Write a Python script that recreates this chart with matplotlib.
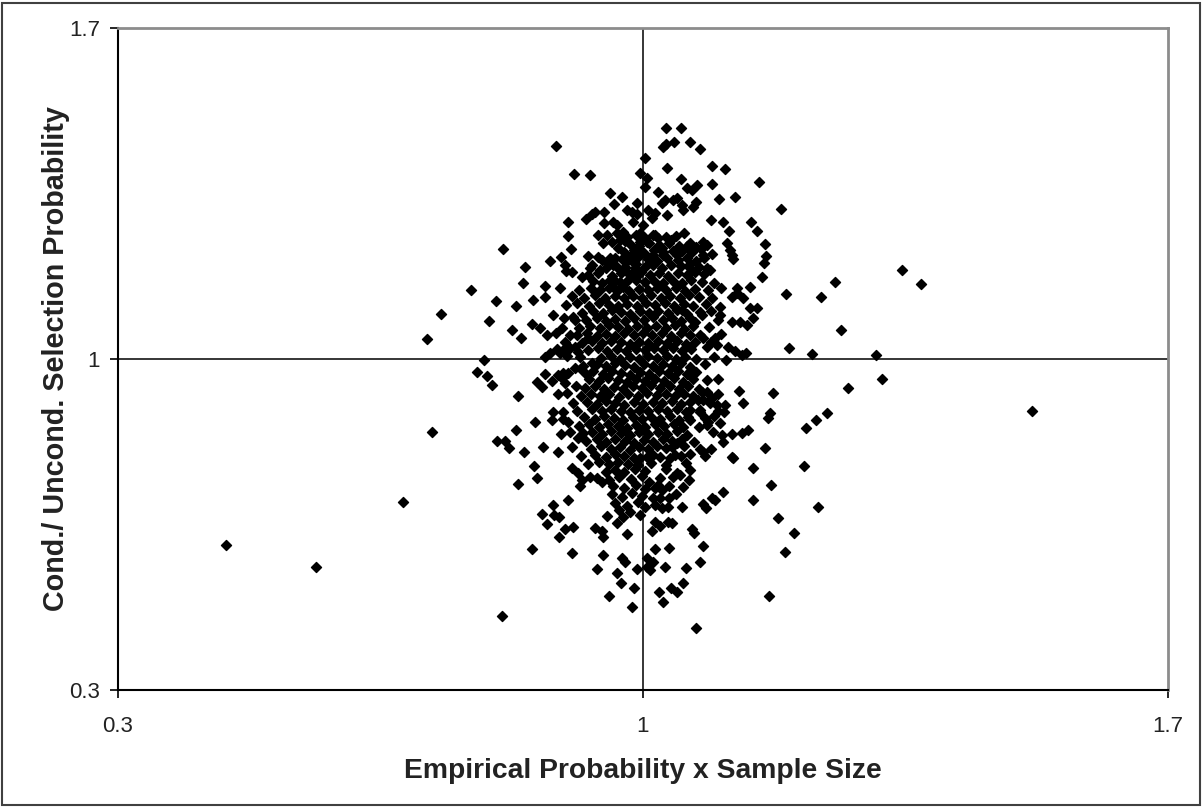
import matplotlib
matplotlib.use("Agg")
import matplotlib.pyplot as plt
from matplotlib.patches import Rectangle

# ---------------- data ----------------
x_ticks = [0.3, 1.0, 1.7]
x_tick_labels = ["0.3", "1", "1.7"]
y_ticks = [0.3, 1.0, 1.7]
y_tick_labels = ["0.3", "1", "1.7"]
x_label = "Empirical Probability x Sample Size"
y_label = "Cond./ Uncond. Selection Probability"

# outliers and far wings
outliers = [(0.444, 0.607), (0.564, 0.560), (0.680, 0.698), (0.719, 0.846),
            (0.712, 1.042), (0.731, 1.095), (0.771, 1.146), (0.812, 0.457),
            (0.884, 1.450), (1.519, 0.890), (1.345, 1.188), (1.371, 1.159),
            (0.985, 0.476), (0.955, 0.499), (1.071, 0.431), (1.168, 0.499)]

left_wing = [(0.813, 1.233), (0.843, 1.195), (0.840, 1.161), (0.804, 1.123),
             (0.831, 1.112), (0.795, 1.080), (0.825, 1.061), (0.837, 1.044),
             (0.788, 0.998), (0.779, 0.973), (0.792, 0.964), (0.799, 0.945),
             (0.833, 0.922), (0.831, 0.850), (0.805, 0.827), (0.816, 0.827),
             (0.821, 0.812), (0.841, 0.803), (0.833, 0.736)]

right_wing = [(1.184, 1.317), (1.191, 1.137), (1.237, 1.131), (1.256, 1.163),
              (1.264, 1.061), (1.195, 1.023), (1.225, 1.011), (1.311, 1.008),
              (1.319, 0.958), (1.273, 0.939), (1.245, 0.886), (1.231, 0.871),
              (1.217, 0.854), (1.215, 0.774), (1.233, 0.687), (1.180, 0.664),
              (1.201, 0.632), (1.189, 0.592)]

upper_left = [(0.908, 1.391), (0.929, 1.389), (0.956, 1.351), (0.972, 1.343),
              (0.961, 1.328), (0.992, 1.330), (0.936, 1.311), (0.948, 1.311),
              (0.932, 1.307), (0.979, 1.315), (0.985, 1.311), (0.992, 1.307),
              (0.900, 1.290), (0.924, 1.296), (0.948, 1.288), (0.960, 1.290),
              (0.965, 1.283), (0.987, 1.290), (0.940, 1.262), (0.952, 1.262),
              (0.965, 1.266), (0.973, 1.269), (0.900, 1.260), (0.947, 1.245),
              (0.959, 1.247), (0.969, 1.252), (0.976, 1.250), (0.904, 1.233),
              (0.967, 1.235), (0.996, 1.266), (0.996, 1.247), (0.993, 1.235),
              (0.876, 1.207), (0.891, 1.216), (0.927, 1.218), (0.940, 1.216),
              (0.956, 1.214), (0.972, 1.211), (0.983, 1.216), (0.987, 1.205),
              (0.896, 1.199), (0.897, 1.186), (0.905, 1.184), (0.929, 1.192),
              (0.943, 1.188), (0.952, 1.203), (0.960, 1.199), (0.969, 1.188),
              (0.979, 1.184), (0.989, 1.192), (0.919, 1.173), (0.956, 1.167),
              (0.969, 1.163), (0.983, 1.171), (0.993, 1.178), (0.869, 1.154),
              (0.889, 1.150), (0.960, 1.152), (0.973, 1.152)]

upper_right = [(1.031, 1.488), (1.051, 1.488), (1.027, 1.448), (1.031, 1.455),
               (1.041, 1.459), (1.063, 1.459), (1.076, 1.444), (1.003, 1.425),
               (1.032, 1.404), (1.092, 1.408), (1.109, 1.402), (1.155, 1.374),
               (0.996, 1.393), (1.005, 1.383), (1.003, 1.364), (1.051, 1.381),
               (1.059, 1.362), (1.065, 1.357), (1.072, 1.368), (1.092, 1.370),
               (1.020, 1.353), (1.025, 1.330), (1.029, 1.336), (1.040, 1.336),
               (1.045, 1.340), (1.052, 1.326), (1.053, 1.315), (1.067, 1.321),
               (1.071, 1.332), (1.101, 1.338), (1.123, 1.343), (1.032, 1.304),
               (1.007, 1.315), (1.016, 1.309), (1.012, 1.298), (1.000, 1.283),
               (1.091, 1.294), (1.107, 1.290), (1.115, 1.271), (1.144, 1.290),
               (1.152, 1.271), (1.055, 1.266), (1.037, 1.252), (1.013, 1.262),
               (1.020, 1.256), (1.005, 1.247), (1.063, 1.245), (1.059, 1.239),
               (1.080, 1.247), (1.085, 1.241), (1.112, 1.245), (1.116, 1.230),
               (1.119, 1.220), (1.120, 1.211), (1.163, 1.243), (1.164, 1.218),
               (1.161, 1.203), (1.052, 1.228), (1.045, 1.220), (1.080, 1.220),
               (1.081, 1.214), (1.092, 1.222), (1.025, 1.235), (1.027, 1.220),
               (1.013, 1.220), (1.063, 1.192), (1.069, 1.184), (1.085, 1.192),
               (1.089, 1.188), (1.159, 1.173), (1.143, 1.152), (1.125, 1.150)]

mid_left = [(0.853, 1.125), (0.869, 1.131), (0.907, 1.089), (0.880, 1.093),
            (0.909, 1.082), (0.852, 1.074), (0.863, 1.066), (0.872, 1.051),
            (0.892, 1.066), (0.903, 1.051), (0.896, 1.036), (0.903, 1.023),
            (0.909, 1.025), (0.927, 1.044), (0.869, 1.004), (0.876, 1.013),
            (0.889, 1.013), (0.893, 1.019), (0.913, 1.015), (0.916, 1.004),
            (0.932, 0.992), (0.869, 0.968), (0.859, 0.951), (0.865, 0.941),
            (0.887, 0.966), (0.893, 0.970), (0.892, 0.960), (0.896, 0.949),
            (0.909, 0.981), (0.919, 0.977), (0.925, 0.966), (0.899, 0.928),
            (0.880, 0.888), (0.893, 0.888), (0.856, 0.867), (0.900, 0.867),
            (0.903, 0.846), (0.879, 0.871), (0.867, 0.814), (0.887, 0.803),
            (0.913, 0.833), (0.920, 0.844)]

mid_right = [(1.119, 1.131), (1.125, 1.140), (1.133, 1.129), (1.103, 1.110),
             (1.143, 1.108), (1.152, 1.108), (1.103, 1.093), (1.100, 1.082),
             (1.119, 1.078), (1.129, 1.078), (1.139, 1.072), (1.147, 1.087),
             (1.076, 1.099), (1.079, 1.093), (1.052, 1.104), (1.076, 1.051),
             (1.080, 1.044), (1.096, 1.044), (1.099, 1.030), (1.085, 1.025),
             (1.113, 1.025), (1.123, 1.017), (1.132, 1.008), (1.137, 1.013),
             (1.111, 0.998), (1.100, 0.958), (1.128, 0.932), (1.173, 0.928),
             (1.133, 0.907), (1.079, 0.930), (1.085, 0.930), (1.092, 0.918),
             (1.080, 0.913), (1.073, 0.913), (1.099, 0.903), (1.109, 0.903),
             (1.100, 0.890), (1.108, 0.888), (1.063, 0.892), (1.063, 0.871),
             (1.076, 0.888), (1.083, 0.875), (1.087, 0.867), (1.103, 0.865),
             (1.075, 0.856), (1.093, 0.846), (1.105, 0.839), (1.107, 0.824),
             (1.132, 0.844), (1.140, 0.850), (1.169, 0.886), (1.167, 0.875),
             (1.163, 0.812), (1.076, 0.810), (1.080, 0.803), (1.039, 0.814),
             (1.045, 0.822), (1.119, 0.793)]

lower_left = [(0.855, 0.774), (0.859, 0.748), (0.905, 0.770), (0.913, 0.759),
              (0.919, 0.744), (0.916, 0.731), (0.929, 0.750), (0.939, 0.748),
              (0.945, 0.740), (0.900, 0.702), (0.880, 0.691), (0.865, 0.672),
              (0.881, 0.670), (0.888, 0.666), (0.872, 0.651), (0.952, 0.668),
              (0.965, 0.653), (0.973, 0.666), (0.896, 0.641), (0.907, 0.645),
              (0.888, 0.624), (0.936, 0.643), (0.945, 0.636), (0.947, 0.624),
              (0.979, 0.630), (0.852, 0.598), (0.905, 0.590), (0.947, 0.586),
              (0.972, 0.579), (0.976, 0.571), (0.939, 0.556), (0.965, 0.547),
              (0.971, 0.526), (0.992, 0.556), (0.988, 0.516), (1.005, 0.579),
              (1.005, 0.560)]

lower_right = [(1.083, 0.795), (1.120, 0.791), (1.147, 0.770), (1.171, 0.734),
               (1.147, 0.702), (1.107, 0.719), (1.092, 0.706), (1.096, 0.702),
               (1.080, 0.693), (1.084, 0.685), (1.061, 0.744), (1.053, 0.729),
               (1.045, 0.759), (1.049, 0.755), (1.040, 0.750), (1.044, 0.715),
               (1.052, 0.687), (1.023, 0.748), (1.020, 0.734), (1.016, 0.727),
               (1.025, 0.723), (1.013, 0.706), (1.023, 0.706), (1.016, 0.691),
               (1.025, 0.685), (1.033, 0.687), (1.016, 0.655), (1.023, 0.647),
               (1.033, 0.655), (1.039, 0.653), (1.012, 0.636), (1.065, 0.641),
               (1.068, 0.632), (1.080, 0.605), (1.016, 0.598), (1.035, 0.600),
               (1.076, 0.571), (1.013, 0.571), (1.009, 0.554), (1.029, 0.560),
               (1.057, 0.558), (1.053, 0.526), (1.021, 0.507), (1.037, 0.516),
               (1.045, 0.507), (1.027, 0.486), (0.996, 0.791), (1.005, 0.793),
               (1.023, 0.793), (1.036, 0.791), (1.043, 0.797)]

core_top = [(0.978, 1.258), (0.990, 1.262), (1.003, 1.256), (1.016, 1.263), (1.030, 1.259), (1.044, 1.261),
            (0.982, 1.243), (0.995, 1.240), (1.008, 1.246), (1.021, 1.242), (1.035, 1.245), (1.048, 1.240), (1.070, 1.236),
            (0.975, 1.226), (0.988, 1.230), (1.001, 1.225), (1.014, 1.231), (1.027, 1.227), (1.040, 1.229), (1.065, 1.226), (1.077, 1.232),
            (0.945, 1.210), (0.962, 1.214), (0.980, 1.209), (0.993, 1.215), (1.006, 1.211), (1.019, 1.208), (1.032, 1.213), (1.046, 1.209), (1.058, 1.214), (1.070, 1.207),
            (0.932, 1.198), (0.950, 1.193), (0.963, 1.199), (0.976, 1.195), (0.990, 1.200), (1.002, 1.194), (1.013, 1.198), (1.025, 1.193), (1.037, 1.199), (1.050, 1.196), (1.062, 1.201), (1.075, 1.195),
            (0.927, 1.178), (0.940, 1.182), (0.958, 1.176), (0.970, 1.181), (0.984, 1.177), (0.997, 1.183), (1.009, 1.178), (1.021, 1.182), (1.033, 1.176), (1.046, 1.181), (1.058, 1.177), (1.081, 1.180),
            (0.933, 1.166), (0.945, 1.161), (0.962, 1.165), (0.976, 1.161), (0.990, 1.167), (1.002, 1.162), (1.015, 1.166), (1.027, 1.160), (1.040, 1.165), (1.052, 1.161), (1.064, 1.167), (1.078, 1.163), (1.095, 1.160),
            (0.915, 1.146), (0.930, 1.150), (0.943, 1.145), (0.955, 1.151), (0.968, 1.147), (0.981, 1.143), (0.994, 1.149), (1.006, 1.145), (1.018, 1.150), (1.031, 1.146), (1.044, 1.151), (1.056, 1.144), (1.069, 1.149), (1.086, 1.146), (1.104, 1.150)]

core_mid = [(0.905, 1.134), (0.921, 1.130), (0.936, 1.135), (0.949, 1.129), (0.962, 1.133), (0.974, 1.128), (0.987, 1.134), (0.999, 1.130), (1.011, 1.135), (1.024, 1.129), (1.036, 1.133), (1.049, 1.130), (1.061, 1.136), (1.074, 1.131), (1.092, 1.128),
            (0.897, 1.114), (0.912, 1.118), (0.928, 1.113), (0.941, 1.119), (0.954, 1.115), (0.967, 1.112), (0.979, 1.117), (0.992, 1.113), (1.004, 1.119), (1.016, 1.114), (1.029, 1.118), (1.041, 1.113), (1.054, 1.117), (1.066, 1.112), (1.084, 1.116),
            (0.918, 1.098), (0.933, 1.102), (0.946, 1.097), (0.958, 1.103), (0.971, 1.099), (0.983, 1.095), (0.996, 1.101), (1.008, 1.097), (1.020, 1.102), (1.033, 1.098), (1.045, 1.103), (1.058, 1.096), (1.090, 1.101),
            (0.894, 1.086), (0.924, 1.082), (0.938, 1.087), (0.951, 1.081), (0.963, 1.085), (0.976, 1.080), (0.988, 1.086), (1.001, 1.082), (1.013, 1.088), (1.026, 1.083), (1.038, 1.087), (1.050, 1.081), (1.063, 1.086), (1.069, 1.078),
            (0.915, 1.066), (0.929, 1.070), (0.942, 1.065), (0.955, 1.071), (0.967, 1.067), (0.980, 1.063), (0.992, 1.069), (1.005, 1.065), (1.017, 1.070), (1.030, 1.066), (1.042, 1.071), (1.055, 1.064), (1.067, 1.069), (1.088, 1.067),
            (0.884, 1.054), (0.912, 1.050), (0.925, 1.055), (0.938, 1.049), (0.950, 1.053), (0.963, 1.048), (0.975, 1.054), (0.988, 1.050), (1.000, 1.056), (1.012, 1.051), (1.025, 1.055), (1.037, 1.049), (1.050, 1.054), (1.062, 1.050), (1.104, 1.053),
            (0.918, 1.034), (0.932, 1.038), (0.945, 1.033), (0.957, 1.039), (0.970, 1.035), (0.982, 1.031), (0.995, 1.037), (1.007, 1.033), (1.020, 1.038), (1.032, 1.034), (1.045, 1.039), (1.057, 1.032), (1.069, 1.037), (1.091, 1.035),
            (0.885, 1.022), (0.926, 1.018), (0.940, 1.023), (0.952, 1.017), (0.965, 1.021), (0.977, 1.016), (0.990, 1.022), (1.002, 1.018), (1.015, 1.024), (1.027, 1.019), (1.040, 1.023), (1.052, 1.017), (1.064, 1.022),
            (0.898, 1.006), (0.944, 1.002), (0.957, 1.007), (0.969, 1.001), (0.982, 1.005), (0.994, 1.000), (1.007, 1.006), (1.019, 1.002), (1.032, 1.007), (1.044, 1.001), (1.056, 1.005), (1.070, 1.000), (1.095, 1.005),
            (0.920, 0.986), (0.938, 0.990), (0.951, 0.985), (0.963, 0.991), (0.976, 0.987), (0.988, 0.983), (1.001, 0.989), (1.013, 0.985), (1.026, 0.990), (1.038, 0.986), (1.051, 0.991), (1.063, 0.984), (1.082, 0.989),
            (0.900, 0.970), (0.933, 0.974), (0.946, 0.969), (0.958, 0.975), (0.971, 0.971), (0.983, 0.967), (0.996, 0.973), (1.008, 0.969), (1.021, 0.974), (1.033, 0.970), (1.046, 0.975), (1.058, 0.968), (1.071, 0.973),
            (0.878, 0.954), (0.928, 0.958), (0.941, 0.953), (0.953, 0.959), (0.966, 0.955), (0.978, 0.951), (0.991, 0.957), (1.003, 0.953), (1.016, 0.958), (1.028, 0.954), (1.041, 0.959), (1.053, 0.952), (1.066, 0.957), (1.085, 0.955)]

core_bottom = [(0.910, 0.942), (0.923, 0.938), (0.936, 0.943), (0.948, 0.937), (0.961, 0.941), (0.973, 0.936), (0.986, 0.942), (0.998, 0.938), (1.011, 0.944), (1.023, 0.939), (1.036, 0.943), (1.048, 0.937), (1.060, 0.942), (1.074, 0.936),
               (0.886, 0.926), (0.917, 0.922), (0.930, 0.927), (0.943, 0.921), (0.955, 0.925), (0.968, 0.920), (0.980, 0.926), (0.993, 0.922), (1.005, 0.928), (1.018, 0.923), (1.030, 0.927), (1.043, 0.921), (1.055, 0.926), (1.067, 0.921), (1.100, 0.925),
               (0.906, 0.906), (0.925, 0.910), (0.938, 0.905), (0.950, 0.911), (0.963, 0.907), (0.975, 0.903), (0.988, 0.909), (1.000, 0.905), (1.013, 0.910), (1.025, 0.906), (1.038, 0.911), (1.050, 0.904), (1.062, 0.909), (1.089, 0.907),
               (0.912, 0.890), (0.932, 0.894), (0.945, 0.889), (0.957, 0.895), (0.970, 0.891), (0.982, 0.887), (0.995, 0.893), (1.007, 0.889), (1.020, 0.894), (1.032, 0.890), (1.045, 0.895), (1.057, 0.888), (1.076, 0.893),
               (0.893, 0.874), (0.921, 0.878), (0.936, 0.873), (0.948, 0.879), (0.961, 0.875), (0.973, 0.871), (0.986, 0.877), (0.998, 0.873), (1.011, 0.878), (1.023, 0.874), (1.036, 0.879), (1.048, 0.872), (1.060, 0.877), (1.095, 0.879),
               (0.915, 0.858), (0.928, 0.862), (0.941, 0.857), (0.953, 0.863), (0.966, 0.859), (0.978, 0.855), (0.991, 0.861), (1.003, 0.857), (1.016, 0.862), (1.028, 0.858), (1.041, 0.863), (1.053, 0.856), (1.085, 0.860),
               (0.890, 0.842), (0.932, 0.846), (0.945, 0.841), (0.957, 0.847), (0.970, 0.843), (0.982, 0.839), (0.995, 0.845), (1.007, 0.841), (1.020, 0.846), (1.032, 0.842), (1.045, 0.847), (1.058, 0.840), (1.118, 0.842),
               (0.924, 0.826), (0.938, 0.830), (0.951, 0.825), (0.963, 0.831), (0.976, 0.827), (0.988, 0.823), (1.001, 0.829), (1.013, 0.825), (1.026, 0.830), (1.039, 0.826), (1.052, 0.831), (1.068, 0.824),
               (0.905, 0.814), (0.930, 0.810), (0.944, 0.815), (0.957, 0.809), (0.969, 0.813), (0.982, 0.808), (0.994, 0.814), (1.007, 0.810), (1.019, 0.816), (1.031, 0.811), (1.055, 0.815), (1.090, 0.810),
               (0.917, 0.794), (0.936, 0.798), (0.950, 0.793), (0.963, 0.799), (0.975, 0.795), (0.988, 0.791), (1.013, 0.797), (1.050, 0.794), (1.062, 0.799),
               (0.926, 0.778), (0.941, 0.782), (0.955, 0.777), (0.967, 0.783), (0.980, 0.779), (0.993, 0.775), (1.010, 0.781), (1.030, 0.776), (1.057, 0.780),
               (0.950, 0.762), (0.962, 0.766), (0.975, 0.761), (0.989, 0.767), (1.003, 0.763), (1.030, 0.768), (1.062, 0.765),
               (0.955, 0.745), (0.968, 0.750), (0.984, 0.746), (0.998, 0.752), (1.008, 0.740),
               (0.960, 0.731), (0.975, 0.727), (0.990, 0.733), (1.002, 0.725), (1.035, 0.731),
               (0.958, 0.714), (0.972, 0.709), (0.985, 0.716), (0.998, 0.710), (1.034, 0.705),
               (0.962, 0.696), (0.978, 0.690), (0.993, 0.697), (1.003, 0.688),
               (0.968, 0.681), (0.983, 0.676), (0.996, 0.670)]

groups = [outliers, left_wing, right_wing, upper_left, upper_right, mid_left,
          mid_right, lower_left, lower_right, core_top, core_mid, core_bottom]

# ---------------- figure ----------------
plt.rcParams['font.family'] = ['Liberation Sans', 'DejaVu Sans']
fig = plt.figure(figsize=(12.04, 8.08), dpi=100)
fig.patch.set_facecolor('white')
ax = fig.add_axes([118 / 1204, 118 / 808, 1050 / 1204, 662 / 808])

ax.set_xlim(0.3, 1.7)
ax.set_ylim(0.3, 1.7)

# reference cross lines at 1
ax.axvline(1.0, color='black', lw=1.1, zorder=1)
ax.axhline(1.0, color='black', lw=1.1, zorder=1)

for g in groups:
    xs = [p[0] for p in g]
    ys = [p[1] for p in g]
    ax.scatter(xs, ys, marker='D', s=26, color='black', edgecolors='black',
               linewidths=1.0, zorder=3)

ax.set_xticks(x_ticks)
ax.set_xticklabels(x_tick_labels)
ax.set_yticks(y_ticks)
ax.set_yticklabels(y_tick_labels)
ax.tick_params(axis='both', direction='out', length=6, width=1.2,
               labelsize=16, colors='black')
ax.tick_params(axis='x', pad=13)
ax.tick_params(axis='y', pad=7)
for lab in ax.get_xticklabels() + ax.get_yticklabels():
    lab.set_color('#222222')

for side in ['left', 'bottom']:
    ax.spines[side].set_color('black')
    ax.spines[side].set_linewidth(1.5)
for side in ['top', 'right']:
    ax.spines[side].set_color('#8c8c8c')
    ax.spines[side].set_linewidth(2.0)

ax.set_xlabel(x_label, fontsize=20.3, fontweight='bold', color='#222222')
ax.set_ylabel(y_label, fontsize=20.7, fontweight='bold', color='#222222')
ax.xaxis.set_label_coords(0.5, -0.102)
ax.yaxis.set_label_coords(-0.046, 0.5)

# outer frame of the picture
fig.add_artist(Rectangle((2 / 1204, 3 / 808), 1198 / 1204, 802 / 808,
                         transform=fig.transFigure, fill=False,
                         edgecolor='#404040', lw=1.5))

fig.savefig('out.png', dpi=100, facecolor='white')
